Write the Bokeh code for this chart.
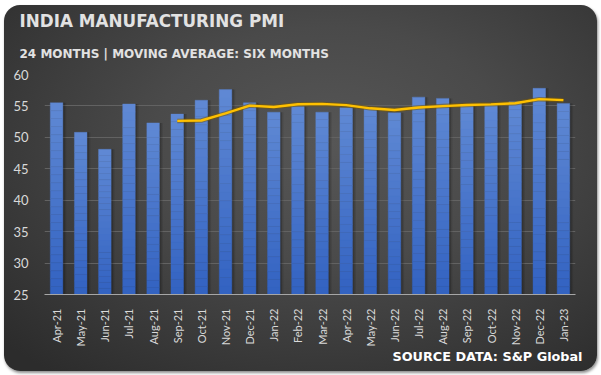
import numpy as np
from bokeh.plotting import figure
from bokeh.models import ColumnDataSource, Title, FactorRange, Range1d, FixedTicker
from bokeh.embed import file_html
from bokeh.resources import INLINE
from bokeh.transform import dodge

months = ["Apr-21", "May-21", "Jun-21", "Jul-21", "Aug-21", "Sep-21", "Oct-21", "Nov-21",
          "Dec-21", "Jan-22", "Feb-22", "Mar-22", "Apr-22", "May-22", "Jun-22", "Jul-22",
          "Aug-22", "Sep-22", "Oct-22", "Nov-22", "Dec-22", "Jan-23"]
pmi = [55.5, 50.8, 48.1, 55.3, 52.3, 53.7, 55.9, 57.6, 55.5, 54.0, 54.9,
       54.0, 54.7, 54.6, 53.9, 56.4, 56.2, 55.1, 55.3, 55.7, 57.8, 55.4]
ma_months = ["Sep-21", "Oct-21", "Nov-21", "Dec-21", "Jan-22", "Feb-22", "Mar-22", "Apr-22",
             "May-22", "Jun-22", "Jul-22", "Aug-22", "Sep-22", "Oct-22", "Nov-22", "Dec-22", "Jan-23"]
ma_values = [52.62, 52.68, 53.82, 55.05, 54.83, 55.27, 55.32, 55.12, 54.62,
             54.35, 54.75, 54.97, 55.15, 55.25, 55.43, 56.08, 55.92]
y_ticks = [25, 30, 35, 40, 45, 50, 55, 60]

title_text = "INDIA MANUFACTURING PMI"
subtitle_text = "24 MONTHS | MOVING AVERAGE: SIX MONTHS"
source_text = "SOURCE DATA: S&P Global"

W, H = 593, 366
p = figure(x_range=FactorRange(factors=months), y_range=Range1d(25, 60),
           width=W, height=H, output_backend="svg", toolbar_location=None,
           min_border_left=40, min_border_right=22, min_border_top=69, min_border_bottom=77)

p.background_fill_alpha = 0
p.border_fill_alpha = 0
p.outline_line_color = None
p.styles = {
    "margin-left": "4px",
    "margin-top": "5px",
    "border-radius": "16px",
    "background-image": "radial-gradient(ellipse 75% 80% at 55% 38%, #565656 0%, #4a4a4a 40%, #2c2c2c 100%)",
    "box-shadow": "1px 2px 3px rgba(0,0,0,0.45)",
}

# bar shadows
src = ColumnDataSource(dict(m=months, v=pmi))
p.vbar(x=dodge("m", 0.07, range=p.x_range), top="v", bottom=25, width=0.66,
       fill_color="black", fill_alpha=0.10, line_color=None, source=src)
p.vbar(x=dodge("m", 0.05, range=p.x_range), top="v", bottom=25, width=0.58,
       fill_color="black", fill_alpha=0.16, line_color=None, source=src)

# gradient bars (bands of each bar)
N = 24
top_c = np.array([96, 137, 212])
bot_c = np.array([50, 98, 193])
vals = np.array(pmi)
for k in range(N):
    f = (k + 0.5) / N
    c = bot_c + (top_c - bot_c) * f
    col = "#%02x%02x%02x" % tuple(int(round(x)) for x in c)
    b = 25 + (vals - 25) * k / N
    t = 25 + (vals - 25) * (k + 1) / N
    p.vbar(x=months, bottom=b, top=t, width=0.52, fill_color=col, line_color=col, line_width=0.4)

# moving average
p.line(ma_months, ma_values, line_color="#7a5a00", line_alpha=0.55, line_width=4.5)
p.line(ma_months, ma_values, line_color="#ffc000", line_width=2.4)

# axes
p.yaxis.ticker = FixedTicker(ticks=y_ticks)
p.yaxis.axis_line_color = None
p.yaxis.major_tick_line_color = None
p.yaxis.minor_tick_line_color = None
p.yaxis.major_label_text_color = "#d9d9d9"
p.yaxis.major_label_text_font = "Lato"
p.yaxis.major_label_text_font_size = "13px"
p.yaxis.major_label_standoff = 10

p.xaxis.axis_line_color = "#a6a6a6"
p.xaxis.axis_line_width = 1
p.xaxis.major_tick_line_color = None
p.xaxis.minor_tick_line_color = None
p.xaxis.major_label_orientation = np.pi / 2
p.xaxis.major_label_text_color = "#d9d9d9"
p.xaxis.major_label_text_font = "Lato"
p.xaxis.major_label_text_font_size = "11px"
p.xaxis.major_label_standoff = 8

p.xgrid.grid_line_color = None
p.ygrid.grid_line_color = "#626262"
p.ygrid.grid_line_width = 1

# titles (added from the frame outward)
p.add_layout(Title(text=subtitle_text, align="left", offset=-25, standoff=28,
                   text_font="DejaVu Sans", text_font_style="bold", text_font_size="12px",
                   text_color="#e2e2e2"), "above")
p.add_layout(Title(text=title_text, align="left", offset=-25, standoff=0,
                   text_font="DejaVu Sans", text_font_style="bold", text_font_size="16.8px",
                   text_color="#e2e2e2"), "above")
p.add_layout(Title(text=source_text, align="right", offset=-7, standoff=-6,
                   text_font="DejaVu Sans", text_font_style="bold", text_font_size="12.8px",
                   text_color="white"), "below")

open("out.html", "w").write(file_html(p, INLINE))
